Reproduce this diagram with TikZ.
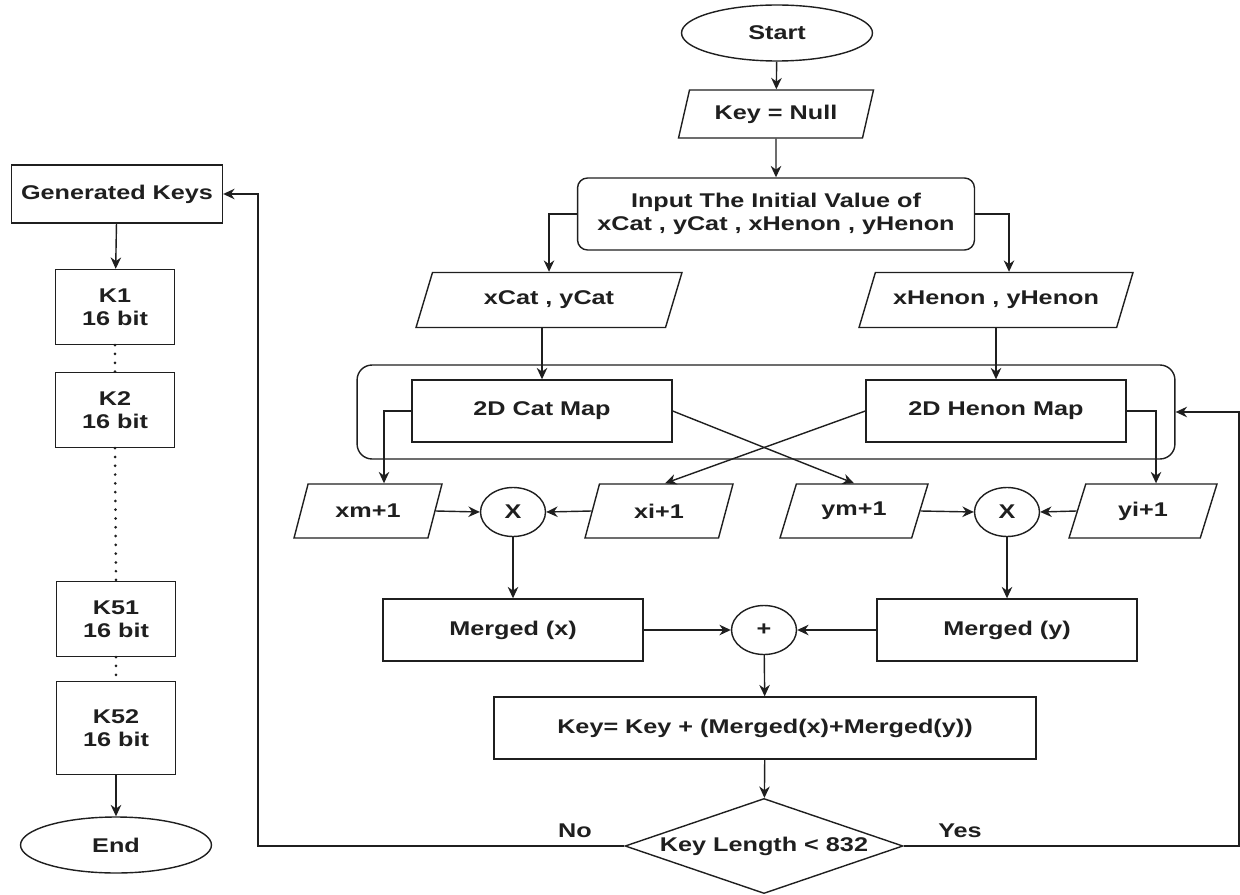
\documentclass[tikz,border=0pt]{standalone}
\usepackage{fontspec}
\setmainfont[FakeStretch=1.27]{Liberation Sans}
\usepackage{xcolor}
\usetikzlibrary{shapes.geometric,arrows.meta}

\tikzset{
  box/.style={draw,rectangle,minimum width=5.2cm,minimum height=1.24cm,align=center},
  keybox/.style={draw,rectangle,minimum width=2.38cm,minimum height=1.5cm,align=center},
  io/.style={draw,trapezium,trapezium left angle=61,trapezium right angle=119,
    trapezium stretches body,minimum height=1.08cm,inner xsep=2pt,align=center},
  term/.style={draw,ellipse,minimum width=3.82cm,minimum height=1.12cm},
  op/.style={draw,ellipse,minimum width=1.3cm,minimum height=0.98cm,inner sep=0pt},
  flow/.style={-{Stealth[length=6.5pt,width=6pt]}},
  dots/.style={line width=1.7pt,line cap=round,dash pattern=on 0pt off 5pt}
}

\begin{document}
\begin{tikzpicture}[x=0.02cm,y=-0.02cm,line width=0.8pt,color=black!88,
  font=\fontsize{11.3}{13}\selectfont\bfseries]
\useasboundingbox (0,0) rectangle (1240,895);

% key generation loop
\node[term] (start) at (777,33) {Start};
\node[io,minimum width=3.9cm,minimum height=0.96cm,trapezium left angle=70,trapezium right angle=110] (keynull) at (776,114) {Key = Null};
\node[draw,rounded corners=0.2cm,minimum width=7.94cm,minimum height=1.44cm,align=center] (input) at (776,214) {Input The Initial Value of\\xCat , yCat , xHenon , yHenon};
\node[io,minimum width=5.32cm,minimum height=1.1cm] (xcat) at (549,300) {xCat , yCat};
\node[io,minimum width=5.48cm,minimum height=1.1cm] (xhenon) at (996,300) {xHenon , yHenon};

\node[draw,rounded corners=0.3cm,minimum width=16.36cm,minimum height=1.88cm] (chaos) at (766,412) {};
\node[box] (catmap) at (542,411) {2D Cat Map};
\node[box] (henonmap) at (996,411) {2D Henon Map};

\node[io,minimum width=2.96cm] (xm) at (368,511) {xm+1};
\node[op] (mulx) at (513,512) {X};
\node[io,minimum width=2.96cm] (xi) at (659,511) {xi+1};
\node[io,minimum width=2.96cm] (ym) at (854,511) {ym+1};
\node[op] (muly) at (1007,512) {X};
\node[io,minimum width=2.96cm] (yi) at (1143,511) {yi+1};

\node[box] (mergedx) at (513,630) {Merged (x)};
\node[op] (plus) at (764,630) {+};
\node[box] (mergedy) at (1007,630) {Merged (y)};
\node[box,minimum width=10.84cm] (keyupd) at (765,728) {Key= Key + (Merged(x)+Merged(y))};
\node[draw,diamond,aspect=2.9,inner sep=1pt,minimum width=5.56cm,minimum height=1.9cm] (check) at (764,846) {Key Length < 832};
\node (nolabel) at (575,831) {No};
\node (yeslabel) at (960,831) {Yes};

\coordinate (noturn) at (258,846);
\coordinate (yesturn) at (1239,846);

% generated keys
\node[draw,minimum width=4.22cm,minimum height=1.16cm] (genkeys) at (117,194) {Generated Keys};
\node[keybox] (k1) at (115,307) {K1\\16 bit};
\node[keybox] (k2) at (115,410) {K2\\16 bit};
\node[keybox] (k51) at (116,619) {K51\\16 bit};
\node[keybox,minimum height=1.86cm] (k52) at (116,728) {K52\\16 bit};
\node[term] (endnode) at (116,845) {End};

\draw[flow] (start) -- (keynull);
\draw[flow] (keynull) -- (input);
\draw[flow] (input.west) -| (xcat.north);
\draw[flow] (input.east) -| ([xshift=0.26cm]xhenon.north);
\draw[flow] (xcat.south -| catmap.north) -- (catmap.north);
\draw[flow] (xhenon.south -| henonmap.north) -- (henonmap.north);

\draw[flow] (catmap.west) -| ([xshift=0.32cm]xm.north);
\draw[flow] (catmap.east) -- (ym.north);
\draw[flow] (henonmap.west) -- ([xshift=0.12cm]xi.north);
\draw[flow] (henonmap.east) -| ([xshift=0.26cm]yi.north);

\draw[flow] (xm.east) -- (mulx.west);
\draw[flow] (xi.west) -- (mulx.east);
\draw[flow] (ym.east) -- (muly.west);
\draw[flow] (yi.west) -- (muly.east);
\draw[flow] (mulx) -- (mergedx);
\draw[flow] (muly) -- (mergedy);
\draw[flow] (mergedx) -- (plus);
\draw[flow] (mergedy) -- (plus);
\draw[flow] (plus) -- (keyupd);
\draw[flow] (keyupd) -- (check);

\draw[flow] (check.west) -- (noturn) |- (genkeys.east);
\draw[flow] (check.east) -- (yesturn) |- (chaos.east);

\draw[flow] (genkeys) -- (k1);
\draw[dots] (k1.south) -- (k2.north);
\draw[dots] (k2.south) -- (k51.north);
\draw[dots] (k51.south) -- (k52.north);
\draw[flow] (k52) -- (endnode);

\end{tikzpicture}
\end{document}
